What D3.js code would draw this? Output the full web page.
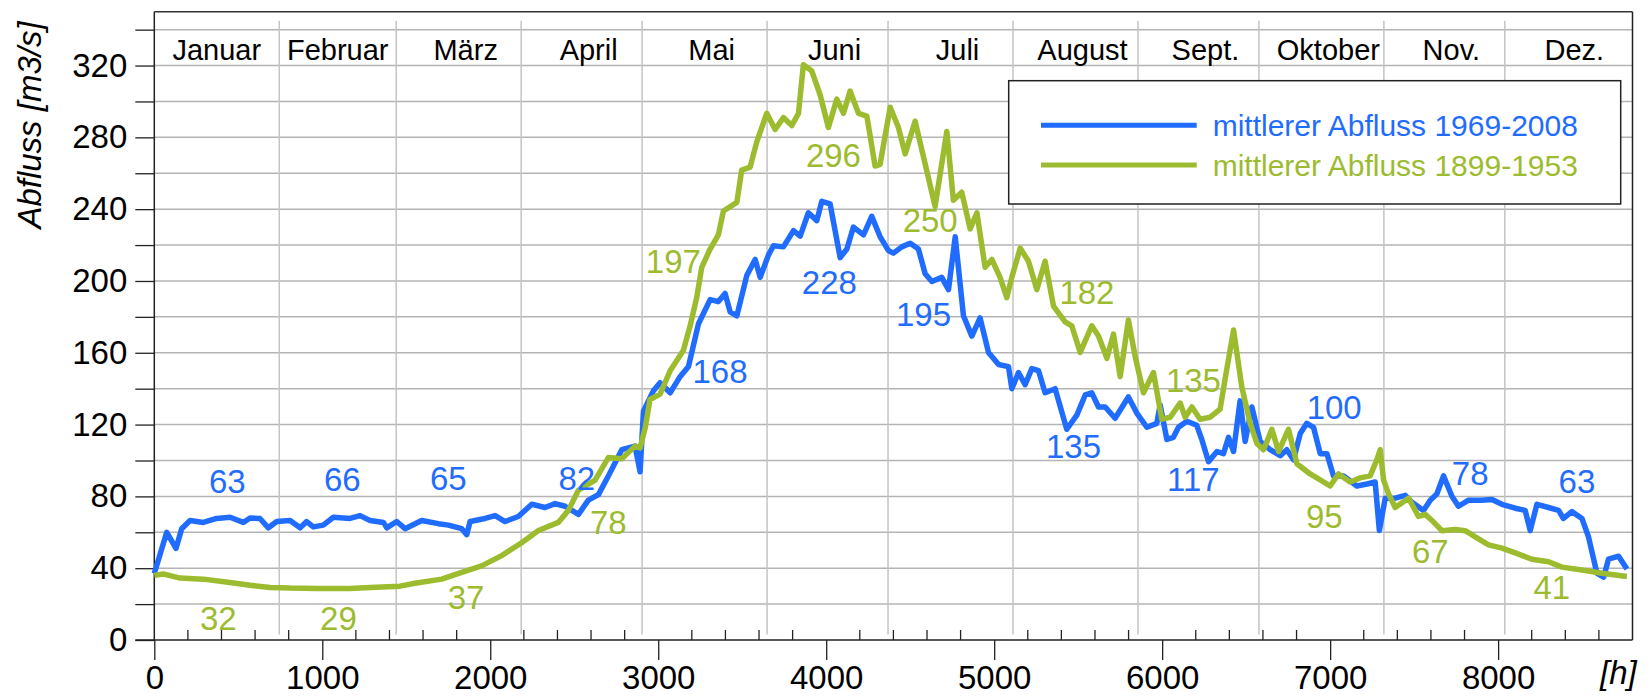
<!DOCTYPE html>
<html><head><meta charset="utf-8">
<script src="https://cdn.jsdelivr.net/npm/d3@7"></script>
<style>
body{margin:0;background:#fff}
svg{display:block}
text{font-family:Arial,"Liberation Sans",sans-serif}
</style>
</head><body>
<svg id="chart" width="1650" height="697"></svg>
<script>
// ---------- data ----------
const monthNames = ["Januar","Februar","März","April","Mai","Juni","Juli","August","Sept.","Oktober","Nov.","Dez."];
const monthEnds = [744,1440,2184,2904,3648,4368,5112,5856,6576,7320,8040,8784];
const xTickValues = [0,1000,2000,3000,4000,5000,6000,7000,8000];
const yTickValues = [0,40,80,120,160,200,240,280,320];
const seriesNames = ["mittlerer Abfluss 1969-2008","mittlerer Abfluss 1899-1953"];

const blueHours = [0,74,129,163,213,292,371,451,530,570,629,679,729,808,868,907,947,1006,1066,1165,1225,1284,1364,1384,1443,1493,1592,1691,1751,1830,1860,1880,1969,2029,2088,2167,2247,2326,2386,2445,2525,2584,2644,2703,2783,2862,2892,2912,2971,3011,3071,3130,3180,3239,3309,3358,3398,3428,3468,3527,3577,3607,3656,3686,3745,3805,3845,3894,3944,3974,4023,4083,4123,4162,4222,4271,4321,4370,4400,4450,4500,4549,4589,4629,4688,4728,4768,4817,4867,4916,4966,5026,5085,5105,5145,5184,5224,5264,5303,5363,5432,5492,5542,5581,5621,5661,5720,5799,5849,5909,5968,5988,6028,6067,6097,6147,6206,6236,6276,6326,6365,6395,6425,6464,6494,6534,6583,6643,6703,6742,6782,6822,6861,6901,6941,6981,7020,7080,7159,7219,7268,7293,7328,7387,7447,7487,7556,7596,7635,7675,7725,7764,7824,7903,7963,8023,8102,8161,8191,8231,8300,8360,8389,8439,8499,8538,8588,8628,8657,8717,8767];
const blueValues = [37,60,51,62,66.6,65.5,67.7,68.4,65.5,68,67.7,62.5,66,66.6,62.5,66,63,64,68.4,67.7,69.3,66.6,65.5,62.5,66,62,66.6,64.8,64,62,58.7,66,67.7,69.3,66,68.8,75.6,73.8,76,74.5,70,77.9,81,91.4,106,108,93.7,127.5,138.8,143.3,137.7,146.7,152.3,176,189.6,188.5,193,182.8,180.6,203,212,202,214.4,219.6,219,228,225,238,233.6,244.4,243,213,217.8,230,225.7,236,224.6,217,215.5,219,221,217.8,204,199.7,202,195.2,224.6,180.6,169.3,179.4,160.2,153.5,152.3,140,149,142.2,151.2,150,137.7,140,117.4,125.3,136.5,137.7,129.8,129.8,123.5,135.4,126.4,118.5,120.7,131,111.7,112.9,118.5,121.9,119.6,111.7,99.3,105,103.8,112.9,105,133.2,110.6,129.8,110.6,106,102.7,106,100.4,115,120.7,118.5,103.8,103.8,91.4,91.4,85.8,86.9,88,61,79,79,80.6,76.7,72.2,77.9,81.3,91.4,80.1,74.5,77.9,77.9,78.3,75.6,73.4,72.2,60.9,75.6,73.8,72.2,67.7,71.5,67.7,57.5,37.2,35,45,46.7,39.5];

const greenHours = [0,53,153,292,451,570,689,808,967,1165,1284,1463,1552,1711,1830,1949,2068,2187,2287,2405,2465,2525,2624,2703,2783,2862,2892,2922,2951,3011,3071,3150,3190,3229,3259,3309,3358,3388,3468,3497,3547,3587,3646,3696,3745,3795,3835,3864,3914,3964,4013,4063,4103,4142,4192,4242,4291,4321,4351,4381,4430,4470,4529,4589,4648,4718,4757,4807,4857,4897,4946,4986,5035,5075,5105,5155,5204,5254,5303,5353,5422,5462,5512,5581,5621,5671,5710,5750,5799,5839,5889,5948,5998,6048,6107,6137,6177,6226,6286,6345,6375,6425,6474,6524,6564,6603,6653,6693,6752,6802,6881,6941,7000,7050,7119,7179,7238,7278,7298,7318,7348,7387,7467,7526,7566,7606,7665,7745,7804,7864,7943,8023,8102,8201,8300,8380,8499,8618,8767];
const greenValues = [36,36.8,34.5,33.9,32,30.5,29.3,28.9,28.7,28.7,29.3,30,31.6,33.9,37.7,41.3,47,54.2,61,65.5,72.2,83.5,89,101.6,101,108,107,118,134,137,150,161.4,175,190.7,207.6,217.8,225.7,239,243.8,261.8,263.4,277.6,293.4,284.4,291,286.6,293.4,320.5,317,303.6,285.5,301.3,293.4,305.8,293.4,291.8,264,265,281,296.8,285.5,270.8,289,265.2,241.5,283.3,245,249.4,229,238,207.6,212,202,190.7,202,218.3,211,195.2,211,186,177.2,175,160.2,175,169.3,156.9,170.4,146.7,178.3,158,137.7,149,123,124.1,132,124.1,129.8,123,124.1,128.6,145.6,172.7,141,120.7,109.5,106,117.4,105,117.4,98.2,92.5,89.2,85.8,92.5,88,90.3,91.4,100.4,106,89.2,81.3,73.8,79,68.8,70,66.6,60.9,61.6,60.9,57.5,53,51.2,48.5,45,43.6,40.6,39,37.2,35.4];

// annotation texts (monthly means) anchored in data space (hour, level)
const blueLabelTexts = ["63","66","65","82","168","228","195","135","117","100","78","63"];
const blueLabelHours = [435,1119,1750,2515,3368,4019,4579,5472,6186,7024,7834,8469];
const blueLabelLevels = [88.3,89.7,89.9,89.9,149.9,199.1,181.6,108,89.5,130,93,88.3];
const greenLabelTexts = ["32","29","37","78","197","296","250","182","135","95","67","41"];
const greenLabelHours = [381,1096,1856,2703,3090,4043,4619,5552,6186,6965,7596,8320];
const greenLabelLevels = [12.3,12.3,24,65.7,211,270,234,194,145,69,49.7,29.2];

// ---------- styles ----------
const BLUE = "#1f6cff", GREEN = "#9dbb2f";
const svg = d3.select("#chart");
const L = 154.3, R = 1632.5, T = 11.7, B = 640;
const x = d3.scaleLinear().domain([0, 8800]).range([L, R]);
const y = d3.scaleLinear().domain([0, 350]).range([B, T]);

// horizontal grid every 20
svg.append("g").selectAll("line").data(d3.range(20, 341, 20)).join("line")
  .attr("x1", L).attr("x2", R).attr("y1", d => y(d)).attr("y2", d => y(d))
  .attr("stroke", "#b4b4b4").attr("stroke-width", 1.5);

// month separators
svg.append("g").selectAll("line").data(monthEnds.slice(0, 11)).join("line")
  .attr("x1", d => x(d)).attr("x2", d => x(d)).attr("y1", y(345)).attr("y2", y(3))
  .attr("stroke", "#c4c4c4").attr("stroke-width", 1.5);

// month labels
const monthStarts = [0].concat(monthEnds.slice(0, 11));
svg.append("g").selectAll("text").data(monthNames).join("text")
  .attr("x", (d, i) => x((monthStarts[i] + monthEnds[i]) / 2) + (i < 2 ? 0 : 7))
  .attr("y", 60)
  .attr("text-anchor", "middle").attr("font-size", 29).attr("fill", "#000")
  .text(d => d);

// frame
svg.append("line").attr("x1", L).attr("x2", R).attr("y1", T).attr("y2", T).attr("stroke", "#333").attr("stroke-width", 1.5);
svg.append("line").attr("x1", R).attr("x2", R).attr("y1", T).attr("y2", B).attr("stroke", "#222").attr("stroke-width", 1.5);

// y axis
const yAxis = d3.axisLeft(y).tickValues(d3.range(0, 341, 20)).tickSize(19).tickPadding(8)
  .tickFormat(d => yTickValues.includes(d) ? d : "");
const gy = svg.append("g").attr("transform", `translate(${L},0)`).call(yAxis);
gy.select(".domain").attr("stroke", "#222").attr("stroke-width", 1.5).attr("d", `M-19,${B}H0V${T}`);
gy.selectAll(".tick line").attr("stroke", "#222").attr("stroke-width", 1.3);
gy.selectAll(".tick text").attr("font-size", 33).attr("fill", "#000").attr("font-family", "Arial, 'Liberation Sans', sans-serif");

// x axis
const xAxis = d3.axisBottom(x).tickValues(xTickValues).tickSize(20).tickPadding(6).tickFormat(d3.format("d"));
const gx = svg.append("g").attr("transform", `translate(0,${B})`).call(xAxis);
gx.select(".domain").attr("stroke", "#222").attr("stroke-width", 1.5).attr("d", `M${L},0H${R}`);
gx.selectAll(".tick line").attr("stroke", "#222").attr("stroke-width", 1.3);
gx.selectAll(".tick text").attr("font-size", 33).attr("fill", "#000").attr("font-family", "Arial, 'Liberation Sans', sans-serif");
// minor x ticks (inside)
svg.append("g").selectAll("line").data(d3.range(200, 8800, 200).filter(d => d % 1000 !== 0)).join("line")
  .attr("x1", d => x(d)).attr("x2", d => x(d)).attr("y1", B).attr("y2", B - 10)
  .attr("stroke", "#222").attr("stroke-width", 1.3);

// series lines
const line = d3.line().x(d => x(d[0])).y(d => y(d[1]));
const blueData = d3.zip(blueHours, blueValues);
const greenData = d3.zip(greenHours, greenValues);
svg.append("path").datum(blueData).attr("d", line).attr("fill", "none")
  .attr("stroke", BLUE).attr("stroke-width", 5.5).attr("stroke-linejoin", "round");
svg.append("path").datum(greenData).attr("d", line).attr("fill", "none")
  .attr("stroke", GREEN).attr("stroke-width", 5.5).attr("stroke-linejoin", "round");

// annotations
function labels(texts, hours, levels, color) {
  svg.append("g").selectAll("text").data(texts).join("text")
    .attr("x", (d, i) => x(hours[i])).attr("y", (d, i) => y(levels[i]))
    .attr("dy", "0.36em").attr("text-anchor", "middle")
    .attr("font-size", 33).attr("fill", color).text(d => d);
}
labels(blueLabelTexts, blueLabelHours, blueLabelLevels, BLUE);
labels(greenLabelTexts, greenLabelHours, greenLabelLevels, GREEN);

// legend
const lg = svg.append("g");
lg.append("rect").attr("x", 1008.7).attr("y", 80.7).attr("width", 612).attr("height", 123.3)
  .attr("fill", "#fff").attr("stroke", "#222").attr("stroke-width", 1.5);
[BLUE, GREEN].forEach((c, i) => {
  const ly = 125.3 + i * 39.7;
  lg.append("line").attr("x1", 1041).attr("x2", 1196.7).attr("y1", ly).attr("y2", ly)
    .attr("stroke", c).attr("stroke-width", 5);
  lg.append("text").attr("x", 1212.7).attr("y", ly + 10.8).attr("font-size", 30)
    .attr("fill", c).text(seriesNames[i]);
});

// axis titles
svg.append("text").attr("transform", "translate(41,125) rotate(-90)")
  .attr("text-anchor", "middle").attr("font-size", 33).attr("font-style", "italic")
  .attr("fill", "#000").text("Abfluss [m3/s]");
svg.append("text").attr("x", 1600).attr("y", 684).attr("font-size", 33)
  .attr("font-style", "italic").attr("fill", "#000").text("[h]");
</script>
</body></html>
